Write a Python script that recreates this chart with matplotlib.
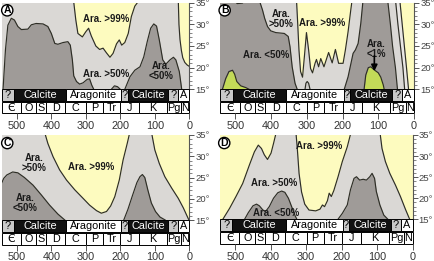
import numpy as np
import matplotlib
matplotlib.use('Agg')
import matplotlib.pyplot as plt
from matplotlib.ticker import MultipleLocator, FixedLocator

plt.rcParams['font.family'] = ['Liberation Sans', 'DejaVu Sans']

# ---------------- data ----------------
period_names = ['Є', 'O', 'S', 'D', 'C', 'P', 'Tr', 'J', 'K', 'Pg', 'N']
period_edges = [543, 488, 444, 416, 359, 299, 251, 200, 146, 66, 23, 0]
mineral_names = ['?', 'Calcite', 'Aragonite', '?', 'Calcite', '?', 'A']
mineral_edges = [543, 508, 357, 197, 178, 61, 33, 0]
age_ticks = [500, 400, 300, 200, 100, 0]
lat_ticks = [15, 20, 25, 30, 35]

# Panel A
A_dark1_age = [540, 533, 526, 516, 507, 497, 487, 468, 458, 444, 424, 410, 400, 390, 381, 366, 352, 345, 339, 335, 327, 318, 308, 296, 289, 283, 277]
A_dark1_lat = [15.0, 24.1, 29.8, 31.4, 31.0, 29.5, 28.8, 28.9, 29.9, 30.2, 30.1, 29.5, 27.9, 25.6, 25.4, 25.8, 26.0, 25.2, 21.8, 18.1, 16.8, 16.2, 16.5, 17.3, 17.4, 16.0, 15.0]
A_bump_age = [226, 217, 208, 200]
A_bump_lat = [15.0, 15.8, 15.6, 15.0]
A_dark2_age = [187, 172, 158, 143, 132, 122, 112, 103, 95, 87, 77, 68, 56, 46, 39, 29, 22]
A_dark2_lat = [15.0, 17.9, 19.4, 20.2, 22.5, 26.0, 29.1, 30.1, 29.6, 26.4, 21.8, 20.8, 21.8, 22.4, 21.8, 19.1, 15.0]
A_yel1_age = [336, 329, 323, 310, 300, 292, 284, 271, 260, 250, 240, 230, 221, 211, 203, 196, 187, 177, 168, 158, 143]
A_yel1_lat = [35.8, 31.0, 27.9, 27.1, 28.3, 29.1, 27.3, 25.0, 24.2, 24.5, 23.4, 22.4, 23.3, 25.5, 26.4, 25.2, 25.8, 27.9, 31.8, 34.2, 35.8]
A_yel2_age = [32, 30, 27, 23, 19, 13, 6, 0]
A_yel2_lat = [35.8, 30.0, 26.5, 24.0, 22.3, 21.2, 20.6, 20.3]

# Panel B
B_dark1_age = [551, 505, 495, 480, 465, 434, 424, 418, 410, 401, 387, 363, 352, 347, 341, 333, 326]
B_dark1_lat = [35.8, 35.8, 34.8, 34.9, 35.8, 35.8, 33.3, 31.4, 29.5, 28.5, 28.1, 27.9, 27.2, 24.8, 20.2, 16.4, 14.8]
B_green1_age = [537, 527, 518, 508, 502, 496, 485, 471, 457]
B_green1_lat = [14.8, 17.5, 19.1, 19.4, 18.5, 16.8, 15.8, 15.4, 14.8]
B_yel1_age = [329, 326, 322, 317.5, 312, 306, 301, 295, 289.5, 284, 277, 273, 267, 261, 252, 239, 229, 220, 211, 198.5, 192, 184.5, 177, 173]
B_yel1_lat = [35.8, 31.0, 24.1, 19.1, 17.8, 23.3, 28.1, 24.1, 19.8, 18.8, 21.0, 21.9, 20.2, 22.1, 20.2, 23.5, 21.1, 24.2, 21.0, 21.0, 24.1, 28.3, 33.3, 35.8]
B_bump_age = [305, 302.5, 299, 295, 291]
B_bump_lat = [15.0, 16.4, 16.8, 16.4, 15.0]
B_K_left_age = [196, 184.5, 170.5, 164, 156.4, 149, 142.4]
B_K_left_lat = [14.8, 17.9, 23.3, 24.1, 25.6, 30.2, 35.8]
B_right_lat = [14.8, 20, 25, 30, 35.8]
B_K_right_age = [46, 52, 60, 66, 74]
B_band_age = [26, 31, 38, 45, 52]
B_yel2_age = [15, 21, 27, 33, 40]
B_green2_age = [140, 135, 128, 121, 111.5, 100, 93, 86, 83]
B_green2_lat = [14.8, 18.3, 20.0, 20.2, 19.5, 18.8, 17.8, 16.0, 14.8]

# Panel C
C_dark1_age = [545, 538, 529, 512, 497, 478, 453, 429, 405, 381, 361]
C_dark1_lat = [23.5, 24.8, 25.6, 26.3, 26.1, 25.0, 23.2, 20.9, 18.5, 16.4, 15.0]
C_yel1_age = [420, 410, 395, 376, 356, 332, 308, 289, 269, 255, 240, 228, 216, 203, 192, 180, 172]
C_yel1_lat = [35.8, 33.0, 29.9, 26.8, 24.4, 22.1, 20.1, 18.5, 17.2, 16.6, 17.0, 18.3, 20.5, 24.4, 29.1, 33.0, 35.8]
C_yel2_age = [110, 100, 87, 71, 51, 32, 17, 8, 0]
C_yel2_lat = [35.8, 31.5, 28.3, 25.2, 22.5, 20.1, 17.8, 16.2, 14.8]
C_dark2_age = [190, 178, 165, 152, 143, 136, 129, 120, 110, 98, 85, 70]
C_dark2_lat = [15.0, 17.5, 20.7, 23.8, 25.2, 25.7, 25.0, 22.0, 19.0, 17.0, 15.7, 15.0]

# Panel D
D_yel1_age = [549, 535, 516, 498, 479, 460, 446, 435, 426, 418, 409, 399, 392, 384]
D_yel1_lat = [13.5, 15.0, 17.6, 20.4, 23.5, 27.9, 31.0, 32.6, 31.8, 30.3, 29.2, 30.7, 33.0, 35.8]
D_yel2_age = [329, 324.6, 320, 313, 304, 292, 273, 261, 254, 248, 240, 235, 229, 222, 210, 198, 184, 173]
D_yel2_lat = [35.8, 31.4, 25.9, 21.5, 18.6, 17.2, 17.0, 17.4, 18.4, 18.0, 19.4, 21.2, 20.4, 21.8, 25.1, 28.7, 32.2, 35.8]
D_yel3_age = [92, 86, 76.5, 64, 48, 34, 20, 8, 0]
D_yel3_lat = [35.8, 31.8, 28.7, 25.9, 23.1, 20.4, 17.4, 15.0, 14.0]
D_dark1_age = [475, 463, 450, 440, 432, 422, 414, 404, 392, 380, 369, 360, 350, 340, 332, 325]
D_dark1_lat = [14.8, 16.6, 18.2, 18.6, 18.2, 17.2, 16.9, 18.0, 20.0, 21.3, 21.7, 21.4, 20.0, 17.8, 16.0, 14.8]
D_dark2_age = [212, 198, 184, 175, 165, 158, 149, 139, 130, 120.5, 114, 107, 102, 92, 81, 67]
D_dark2_lat = [14.8, 16.4, 18.4, 22.0, 24.7, 25.1, 24.3, 24.5, 24.3, 25.1, 25.9, 24.7, 21.6, 18.4, 16.0, 14.8]

# ---------------- style ----------------
YEL = '#fdfbbf'
LG = '#dad8d5'
LLG = '#e9e7e4'
DG = '#9f9b98'
GR = '#c3da58'
LN = '#2e2e26'
AX = '#555555'

W, H = 434, 261
fig = plt.figure(figsize=(W / 100, H / 100), dpi=100)


def add_ax(x0, x1, y0, y1):
    return fig.add_axes([x0 / W, 1 - y1 / H, (x1 - x0) / W, (y1 - y0) / H])


def setup_main(ax, letter, lx, ly):
    ax.set_xlim(543, 0)
    ax.set_ylim(15, 35)
    ax.set_facecolor(LG)
    for s in ['left', 'top', 'bottom']:
        ax.spines[s].set_visible(False)
    ax.spines['right'].set_color(AX)
    ax.spines['right'].set_linewidth(0.8)
    ax.spines['right'].set_zorder(5)
    ax.set_xticks([])
    ax.yaxis.tick_right()
    ax.yaxis.set_major_locator(FixedLocator(lat_ticks))
    ax.yaxis.set_minor_locator(MultipleLocator(1))
    ax.set_yticklabels([f'{v}°' for v in lat_ticks])
    ax.tick_params(axis='y', which='major', length=3.5, width=0.7, color=AX,
                   labelsize=6.8, labelcolor='#444444', pad=1.0, direction='out')
    ax.tick_params(axis='y', which='minor', length=2, width=0.5, color=AX, direction='out')
    ax.text(lx, ly, letter, transform=ax.transAxes, ha='center', va='center',
            fontsize=7.5, fontweight='bold', zorder=10,
            bbox=dict(boxstyle='circle,pad=0.06', fc='white', ec='black', lw=1.0))


def setup_strip(ax):
    ax.set_xlim(543, 0)
    ax.set_ylim(0, 24)
    for s in ax.spines.values():
        s.set_visible(False)
    ax.set_yticks([])
    ax.set_facecolor('none')
    ax.set_xticks(age_ticks)
    ax.set_xticklabels([str(t) for t in age_ticks])
    ax.tick_params(axis='x', length=4, width=0.7, color=AX, labelsize=7.8,
                   labelcolor='#333333', pad=1.5)
    for i, nm in enumerate(period_names):
        a0, a1 = period_edges[i], period_edges[i + 1]
        ax.barh(5.65, a0 - a1, height=11.3, left=a1, color='white', edgecolor='black',
                lw=0.7, clip_on=False)
        ax.text((a0 + a1) / 2, 5.4, nm, ha='center', va='center', fontsize=7.8,
                color='black', family=['DejaVu Sans'] if nm == 'Є' else None)
    for i, nm in enumerate(mineral_names):
        a0, a1 = mineral_edges[i], mineral_edges[i + 1]
        if nm == 'Calcite':
            fc, tc = '#111111', 'white'
        elif nm == '?':
            fc, tc = '#c9c9c9', 'black'
        else:
            fc, tc = 'white', 'black'
        ax.barh(18.3, a0 - a1, height=11.4, left=a1, color=fc, edgecolor='black',
                lw=0.7, clip_on=False)
        ax.text((a0 + a1) / 2, 18.0, nm, ha='center', va='center', fontsize=7.8, color=tc)


def fill_below(ax, age, lat, color):
    ax.fill_between(age, 15, lat, color=color, lw=0, zorder=2)
    ax.plot(age, lat, color=LN, lw=0.85, zorder=3)


def fill_above(ax, age, lat, color=YEL):
    ax.fill_between(age, lat, 36, color=color, lw=0, zorder=1.5)
    ax.plot(age, lat, color=LN, lw=0.85, zorder=3)


def label(ax, age, lat, s):
    ax.text(age, lat, s, ha='center', va='center', fontsize=6.9, fontweight='bold',
            color='#1a1a1a', linespacing=1.0, zorder=6)


# ---------------- Panel A ----------------
axA = add_ax(2, 189.3, 2.7, 89.3)
sA = add_ax(2, 189.3, 89.3, 113.3)
setup_main(axA, 'A', 0.028, 0.912)
setup_strip(sA)
fill_above(axA, A_yel1_age, A_yel1_lat)
fill_above(axA, A_yel2_age, A_yel2_lat)
fill_below(axA, A_dark1_age, A_dark1_lat, DG)
fill_below(axA, A_bump_age, A_bump_lat, DG)
fill_below(axA, A_dark2_age, A_dark2_lat, DG)
label(axA, 242, 31.2, 'Ara. >99%')
label(axA, 242, 18.5, 'Ara. >50%')
label(axA, 81, 19.3, 'Ara.\n<50%')

# ---------------- Panel B ----------------
axB = add_ax(220, 414, 2.7, 89.3)
sB = add_ax(220, 414, 89.3, 113.3)
setup_main(axB, 'B', 0.024, 0.912)
setup_strip(sB)
fill_above(axB, B_yel1_age, B_yel1_lat)
fill_below(axB, B_dark1_age, B_dark1_lat, DG)
fill_below(axB, B_bump_age, B_bump_lat, '#cfcdca')
kx = np.r_[B_K_left_age, B_K_right_age[::-1]]
ky = np.r_[B_K_left_lat, B_right_lat[::-1]]
axB.fill(kx, ky, color=DG, lw=0, zorder=2)
axB.plot(B_K_left_age, B_K_left_lat, color=LN, lw=0.85, zorder=3)
axB.plot(B_K_right_age, B_right_lat, color=LN, lw=0.85, zorder=3)
axB.fill_betweenx(B_right_lat, B_band_age, B_yel2_age, color=LLG, lw=0, zorder=2)
axB.fill_betweenx(B_right_lat, B_yel2_age, 0, color=YEL, lw=0, zorder=2)
axB.plot(B_band_age, B_right_lat, color=LN, lw=0.85, zorder=3)
axB.plot(B_yel2_age, B_right_lat, color=LN, lw=0.85, zorder=3)
fill_below(axB, B_green1_age, B_green1_lat, GR)
fill_below(axB, B_green2_age, B_green2_lat, GR)
label(axB, 371, 31.3, 'Ara.\n>50%')
label(axB, 256, 30.2, 'Ara. >99%')
label(axB, 413, 22.9, 'Ara. <50%')
label(axB, 106, 24.4, 'Ara.\n<1%')
axB.annotate('', xy=(111, 19.2), xytext=(111, 22.7),
             arrowprops=dict(arrowstyle='-|>', color='black', lw=1.2,
                             mutation_scale=9, shrinkA=0, shrinkB=0), zorder=7)

# ---------------- Panel C ----------------
axC = add_ax(2, 189.3, 135, 220)
sC = add_ax(2, 189.3, 220, 244.5)
setup_main(axC, 'C', 0.028, 0.905)
setup_strip(sC)
fill_above(axC, C_yel1_age, C_yel1_lat)
fill_above(axC, C_yel2_age, C_yel2_lat)
fill_below(axC, C_dark1_age, C_dark1_lat, DG)
fill_below(axC, C_dark2_age, C_dark2_lat, DG)
label(axC, 450, 28.3, 'Ara.\n>50%')
label(axC, 284, 27.4, 'Ara. >99%')
label(axC, 475, 18.9, 'Ara.\n<50%')

# ---------------- Panel D ----------------
axD = add_ax(220, 412.5, 135, 219.3)
sD = add_ax(220, 412.5, 219.3, 244)
setup_main(axD, 'D', 0.022, 0.905)
setup_strip(sD)
fill_above(axD, D_yel1_age, D_yel1_lat)
fill_above(axD, D_yel2_age, D_yel2_lat)
fill_above(axD, D_yel3_age, D_yel3_lat)
fill_below(axD, D_dark1_age, D_dark1_lat, DG)
fill_below(axD, D_dark2_age, D_dark2_lat, DG)
label(axD, 264, 32.4, 'Ara. >99%')
label(axD, 390, 23.5, 'Ara. >50%')
label(axD, 385, 16.4, 'Ara. <50%')

fig.savefig('out.png', dpi=100)
